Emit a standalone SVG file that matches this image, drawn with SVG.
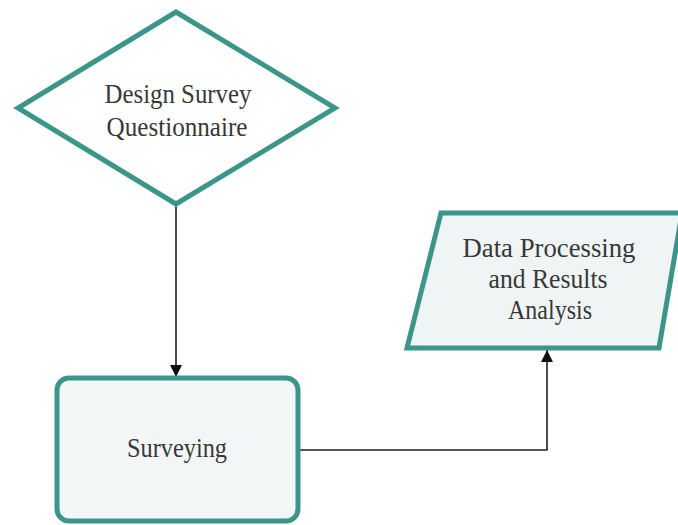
<svg xmlns="http://www.w3.org/2000/svg" width="678" height="525" viewBox="0 0 678 525">
<style>
.shape{stroke:#3b9689;stroke-width:5;stroke-linejoin:miter}
.t{font-family:"Liberation Serif","Times New Roman",serif;font-size:27px;fill:#383838;text-anchor:middle}
.c{fill:none;stroke:#222;stroke-width:1.6}
</style>
<defs>
<marker id="ah" markerWidth="12" markerHeight="12" viewBox="0 0 12 12" refX="12" refY="6" orient="auto" markerUnits="userSpaceOnUse">
<path d="M0,0 L12,6 L0,12 Z" fill="#111"/>
</marker>
</defs>
<rect width="678" height="525" fill="#ffffff"/>
<g id="connectors">
<path class="c" d="M176,206 L176,377" marker-end="url(#ah)"/>
<path class="c" d="M298,450 L547,450 L547,350" marker-end="url(#ah)"/>
</g>
<g id="design">
<polygon class="shape" fill="#ffffff" points="176,12 335,108 176,204 18,108"/>
<text class="t" x="178" y="103" textLength="147" lengthAdjust="spacingAndGlyphs">Design Survey</text>
<text class="t" x="177" y="136" textLength="141" lengthAdjust="spacingAndGlyphs">Questionnaire</text>
</g>
<g id="surveying">
<rect class="shape" fill="#f2f6f6" x="57" y="378" width="241" height="143" rx="12" ry="12"/>
<text class="t" x="177" y="457" textLength="100" lengthAdjust="spacingAndGlyphs">Surveying</text>
</g>
<g id="analysis">
<polygon class="shape" fill="#eff5f4" points="441,213 682,213 659,348 407,348"/>
<text class="t" x="549" y="257" textLength="173" lengthAdjust="spacingAndGlyphs">Data Processing</text>
<text class="t" x="548" y="288" textLength="119" lengthAdjust="spacingAndGlyphs">and Results</text>
<text class="t" x="550" y="319" textLength="84" lengthAdjust="spacingAndGlyphs">Analysis</text>
</g>
</svg>
